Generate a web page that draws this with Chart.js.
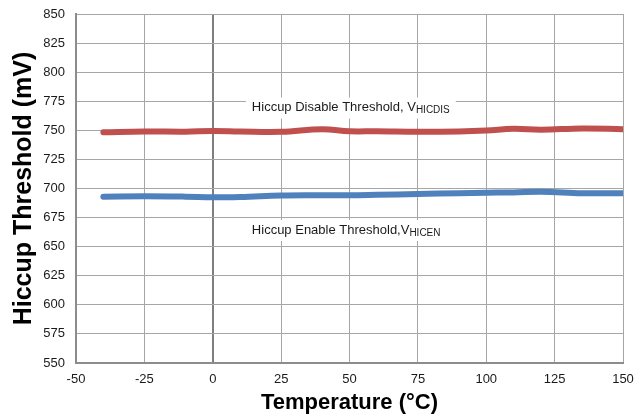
<!DOCTYPE html>
<html>
<head>
<meta charset="utf-8">
<script src="https://cdn.jsdelivr.net/npm/chart.js@4"></script>
<style>
  html, body { margin: 0; padding: 0; background: #fff; }
  #wrap { width: 640px; height: 414px; }
</style>
</head>
<body>
<div id="wrap"><canvas id="hiccupChart" width="640" height="414"></canvas></div>
<script>
// temperatures (°C) and the two thresholds (mV)
const temps      = [-40, -25, -10, 0, 10, 25, 40, 50, 60, 75, 90, 100, 110, 120, 135, 150];
const disableMv  = [748.3, 749, 748.8, 749.5, 749, 748.7, 751, 749.2, 749.2, 748.7, 749, 749.8, 751.3, 750.5, 751.6, 751];
const enableMv   = [693, 693.3, 693, 692.5, 692.6, 694, 694.2, 694.2, 694.6, 695.3, 696, 696.4, 696.6, 697.3, 696, 696];

const xTicks = [-50, -25, 0, 25, 50, 75, 100, 125, 150];
const yTicks = [550, 575, 600, 625, 650, 675, 700, 725, 750, 775, 800, 825, 850];

// text labels inside the plot, anchored in data units
const labels = [
    { x: 14.3, y: 769.6, text: 'Hiccup Disable Threshold, V', sub: 'HICDIS' },
    { x: 14.3, y: 664.3, text: 'Hiccup Enable Threshold,V', sub: 'HICEN' }
];

const FONT = '"Liberation Sans", Arial, sans-serif';

function toPoints(ys) {
    return temps.map((t, i) => ({ x: t, y: ys[i] }));
}

const labelPlugin = {
    id: 'curveLabels',
    afterDatasetsDraw(chart) {
        const ctx = chart.ctx;
        const xs = chart.scales.x, ys = chart.scales.y;
        ctx.save();
        ctx.textBaseline = 'middle';
        ctx.textAlign = 'left';
        labels.forEach(l => {
            const px = xs.getPixelForValue(l.x);
            const py = ys.getPixelForValue(l.y);
            ctx.font = '13px ' + FONT;
            const w1 = ctx.measureText(l.text).width;
            ctx.font = '10px ' + FONT;
            const w2 = ctx.measureText(l.sub).width;
            ctx.fillStyle = '#fff';
            ctx.fillRect(px - 6, py - 10, w1 + w2 + 12, 21);
            ctx.fillStyle = '#1a1a1a';
            ctx.font = '13px ' + FONT;
            ctx.fillText(l.text, px, py);
            ctx.font = '10px ' + FONT;
            ctx.fillText(l.sub, px + w1, py + 3);
        });
        ctx.restore();
    }
};

const ctx = document.getElementById('hiccupChart').getContext('2d');
const hiccupChart = new Chart(ctx, {
    type: 'line',
    data: {
        datasets: [{
            label: 'Hiccup Disable Threshold',
            data: toPoints(disableMv),
            borderColor: '#C0504D',
            borderWidth: 6,
            pointRadius: 0,
            tension: 0.4,
            borderCapStyle: 'round',
            fill: false
        }, {
            label: 'Hiccup Enable Threshold',
            data: toPoints(enableMv),
            borderColor: '#4F81BD',
            borderWidth: 6,
            pointRadius: 0,
            tension: 0.4,
            borderCapStyle: 'round',
            fill: false
        }]
    },
    options: {
        responsive: false,
        animation: false,
        layout: { padding: { top: 14, right: 17, left: 0, bottom: 0 } },
        plugins: {
            legend: { display: false },
            tooltip: { enabled: false }
        },
        scales: {
            x: {
                type: 'linear',
                min: -50,
                max: 150,
                afterBuildTicks: axis => { axis.ticks = xTicks.map(v => ({ value: v })); },
                afterFit: axis => {
                    axis.height = 51;
                    axis.paddingLeft = 0;
                    axis.paddingRight = 0;
                },
                grid: {
                    color: c => c.tick && c.tick.value === 0 ? '#7f7f7f' : '#a6a6a6',
                    lineWidth: c => c.tick && c.tick.value === 0 ? 2 : 1,
                    drawTicks: false
                },
                border: { color: '#8c8c8c', width: 2 },
                ticks: {
                    padding: 9,
                    color: '#1a1a1a',
                    font: { family: FONT, size: 13 }
                },
                title: {
                    display: true,
                    text: 'Temperature (°C)',
                    color: '#000',
                    padding: { top: 0, bottom: 0 },
                    font: { family: FONT, size: 22, weight: 'bold', lineHeight: 1 }
                }
            },
            y: {
                min: 550,
                max: 850,
                afterBuildTicks: axis => { axis.ticks = yTicks.map(v => ({ value: v })); },
                afterFit: axis => {
                    axis.width = 76;
                    axis.paddingTop = 0;
                    axis.paddingBottom = 0;
                },
                grid: {
                    color: '#a6a6a6',
                    drawTicks: false
                },
                border: { color: '#8c8c8c', width: 2 },
                ticks: {
                    padding: 11,
                    color: '#1a1a1a',
                    font: { family: FONT, size: 13 }
                },
                title: {
                    display: true,
                    text: 'Hiccup Threshold (mV)',
                    color: '#000',
                    padding: { top: 12, bottom: 0 },
                    font: { family: FONT, size: 25, weight: 'bold', lineHeight: 1 }
                }
            }
        }
    },
    plugins: [labelPlugin]
});
</script>
</body>
</html>
